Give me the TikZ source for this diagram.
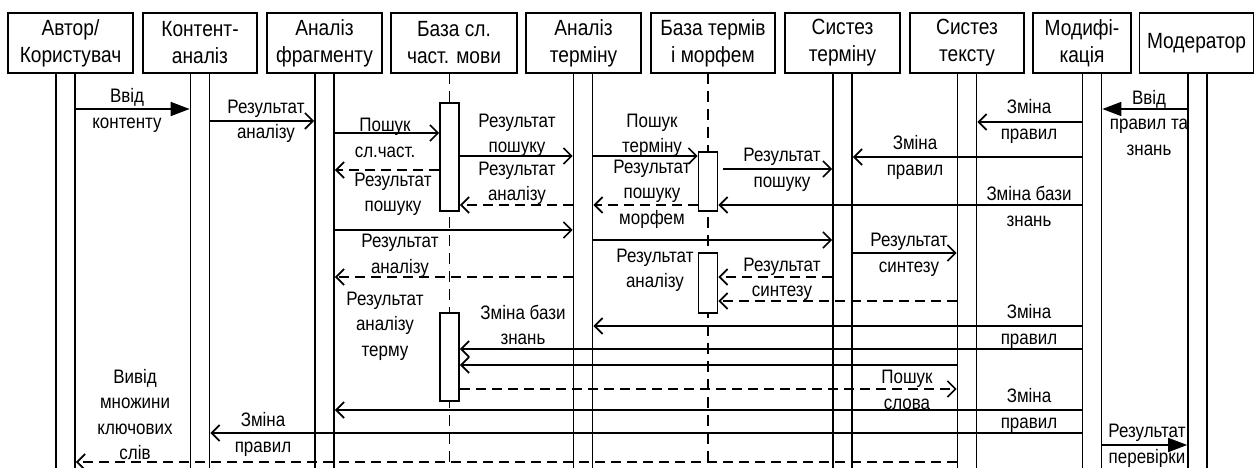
\documentclass[tikz,border=0pt]{standalone}
\usepackage{fontspec}
\setmainfont{Liberation Sans}[FakeStretch=0.87]
\usetikzlibrary{arrows.meta}
\newcommand\hdrfont{\fontsize{22}{27}\selectfont}
\newcommand\msgfont{\fontsize{19.5}{25.5}\selectfont}
\begin{document}
\begin{tikzpicture}[x=1pt,y=-1pt,line width=1.7pt,
  hdr/.style={draw,rectangle,inner sep=0pt,minimum height=60pt,align=center,font=\hdrfont},
  bar/.style={draw,rectangle,inner sep=0pt,minimum width=19pt,minimum height=407pt},
  act/.style={draw,fill=white,rectangle,inner sep=0pt,minimum width=19pt},
  lbl/.style={inner sep=0pt,align=center,font=\msgfont},
  msg/.style={-{Straight Barb[length=8pt,width=16pt]}},
  sync/.style={-{Triangle[length=19pt,width=14pt]}},
  ret/.style={msg,dash pattern=on 10pt off 6pt},
  life/.style={dash pattern=on 11pt off 7pt}]
\useasboundingbox (0,0) rectangle (1255,468);
% headers
\node[hdr,minimum width=125pt] (h1) at (70.5,43) {Автор/\\Користувач};
\node[hdr,minimum width=114pt] (h2) at (200,43) {Контент-\\аналіз};
\node[hdr,minimum width=115pt] (h3) at (324.5,43) {Аналіз\\фрагменту};
\node[hdr,minimum width=126pt] (h4) at (454,43) {База сл.\\част. мови};
\node[hdr,minimum width=115pt] (h5) at (583.5,43) {Аналіз\\терміну};
\node[hdr,minimum width=124pt] (h6) at (713,43) {База термів\\і морфем};
\node[hdr,minimum width=115pt] (h7) at (842.5,43) {Систез\\терміну};
\node[hdr,minimum width=114pt] (h8) at (967,43) {Систез\\тексту};
\node[hdr,minimum width=98pt] (h9) at (1082,43) {Модифі-\\кація};
\node[hdr,minimum width=114pt] (h10) at (1196.5,43) {Модератор};
% bars
\node[bar] (b1) at (65.5,276.5) {};
\node[bar] (b2) at (200,276.5) {};
\node[bar] (b3) at (324.5,276.5) {};
\node[bar] (b5) at (583,276.5) {};
\node[bar] (b7) at (842.5,276.5) {};
\node[bar] (b8) at (967,276.5) {};
\node[bar] (b9) at (1092,276.5) {};
\node[bar] (b10) at (1197.5,276.5) {};
% dashed lifelines
\coordinate (l4) at (449.5,73);
\coordinate (l6) at (708,73);
\draw[life] (l4) -- (l4 |- 0,470);
\draw[life] (l6) -- (l6 |- 0,470);
% activations
\node[act,minimum height=108pt] (a4a) at (449.5,157) {};
\node[act,minimum height=88pt] (a4b) at (449.5,357) {};
\node[act,minimum height=59pt] (a6a) at (708,181.5) {};
\node[act,minimum height=60pt] (a6b) at (708,283) {};
% messages
\draw[sync] (b1.east |- 0,109) -- (b2.west |- 0,109);
\draw[msg] (b2.east |- 0,121) -- (b3.west |- 0,121);
\draw[msg] (b3.east |- 0,133) -- (a4a.west |- 0,133);
\draw[ret] (a4a.west |- 0,170) -- (b3.east |- 0,170);
\draw[msg] (a4a.east |- 0,156) -- (b5.west |- 0,156);
\draw[ret] (b5.west |- 0,205) -- (a4a.east |- 0,205);
\draw[msg] (b3.east |- 0,230) -- (b5.west |- 0,230);
\draw[ret] (b5.west |- 0,277) -- (b3.east |- 0,277);
\draw[msg] (b5.east |- 0,156) -- (a6a.west |- 0,156);
\draw[ret] (a6a.west |- 0,205) -- (b5.east |- 0,205);
\draw[msg] ([xshift=5pt]a6a.east |- 0,169) -- (b7.west |- 0,169);
\draw[msg] (b9.west |- 0,205) -- (a6a.east |- 0,205);
\draw[msg] (b5.east |- 0,240) -- (b7.west |- 0,240);
\draw[msg] (b7.east |- 0,253) -- (b8.west |- 0,253);
\draw[ret] (b7.west |- 0,277) -- (a6b.east |- 0,277);
\draw[ret] (b8.west |- 0,301) -- (a6b.east |- 0,301);
\draw[msg] (b9.west |- 0,326) -- (b5.east |- 0,326);
\draw[msg] (b9.west |- 0,349) -- (a4b.east |- 0,349);
\draw[msg] (b8.west |- 0,365) -- (a4b.east |- 0,365);
\draw[ret] (a4b.east |- 0,389) -- (b8.west |- 0,389);
\draw[msg] (b9.west |- 0,410) -- (b3.east |- 0,410);
\draw[msg] (b9.west |- 0,433) -- (b2.east |- 0,433);
\draw[ret] (b8.west |- 0,462) -- (b1.east |- 0,462);
\draw[sync] (b9.east |- 0,445) -- (b10.west |- 0,445);
\draw[sync] (b10.west |- 0,109) -- (b9.east |- 0,109);
\draw[msg] (b9.west |- 0,122) -- (b8.east |- 0,122);
\draw[msg] (b9.west |- 0,157) -- (b7.east |- 0,157);
% labels
\node[lbl] (t1) at (127,110.5) {Ввід\\контенту};
\node[lbl] (t2) at (266,121.5) {Результат\\аналізу};
\node[lbl] (t3) at (385,138) {Пошук\\сл.част.};
\node[lbl] (t4) at (393,194.5) {Результат\\пошуку};
\node[lbl] (t5) at (517,135.5) {Результат\\пошуку};
\node[lbl] (t6) at (517,183.5) {Результат\\аналізу};
\node[lbl] (t7) at (400,256) {Результат\\аналізу};
\node[lbl] (t8) at (385,326) {Результат\\аналізу\\терму};
\node[lbl] (t9) at (652,135.5) {Пошук\\терміну};
\node[lbl] (t10) at (652,194) {Результат\\пошуку\\морфем};
\node[lbl] (t11) at (782,170) {Результат\\пошуку};
\node[lbl] (t12) at (1029,206.5) {Зміна бази\\знань};
\node[lbl] (t13) at (655,270.5) {Результат\\аналізу};
\node[lbl] (t14) at (909,255) {Результат\\синтезу};
\node[lbl] (t15) at (782,279.5) {Результат\\синтезу};
\node[lbl] (t16) at (1029,326.5) {Зміна\\правил};
\node[lbl] (t17) at (523,325) {Зміна бази\\знань};
\node[lbl] (t18) at (907,390) {Пошук\\слова};
\node[lbl] (t19) at (1029,410.5) {Зміна\\правил};
\node[lbl] (t20) at (263,434.5) {Зміна\\правил};
\node[lbl] (t21) at (135,414.5) {Вивід\\множини\\ключових\\слів};
\node[lbl] (t22) at (1147,446) {Результат\\перевірки};
\node[lbl] (t23) at (1149,123) {Ввід\\правил та\\знань};
\node[lbl] (t24) at (1029,121.5) {Зміна\\правил};
\node[lbl] (t25) at (915,157.5) {Зміна\\правил};
\end{tikzpicture}
\end{document}
